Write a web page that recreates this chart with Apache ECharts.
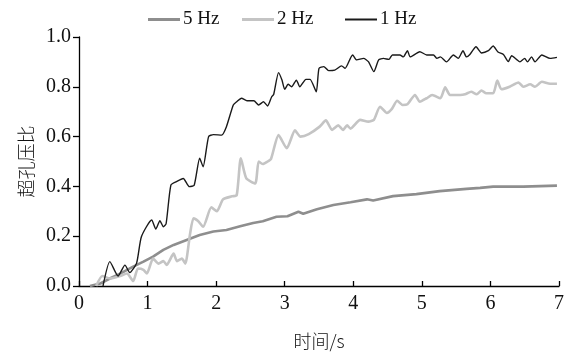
<!doctype html>
<html>
	<head>
		<meta charset="utf-8">
		<title>超孔压比</title>
	</head>
	<body style="margin:0;background:#fff">
		<div id="container" style="height: 361px; width: 569px;"></div>

		<script src="https://cdn.jsdelivr.net/npm/echarts@6/dist/echarts.min.js"></script>

		<script>
			// values: time (s) and excess pore pressure ratio
			var t5Hz = [0.16, 0.31, 0.45, 0.60, 0.79, 0.94, 1.08, 1.23, 1.38, 1.57, 1.76, 1.96, 2.15, 2.35, 2.54, 2.68, 2.88, 3.04, 3.20, 3.27, 3.47, 3.71, 3.96, 4.20, 4.29, 4.58, 4.92, 5.26, 5.65, 5.85, 6.04, 6.48, 6.97];
			var v5Hz = [0, 0.01, 0.03, 0.05, 0.078, 0.098, 0.118, 0.145, 0.165, 0.185, 0.205, 0.219, 0.225, 0.24, 0.253, 0.26, 0.278, 0.28, 0.298, 0.29, 0.308, 0.325, 0.336, 0.348, 0.343, 0.361, 0.369, 0.381, 0.39, 0.394, 0.399, 0.399, 0.403];

			var t2Hz = [0.25, 0.34, 0.45, 0.60, 0.70, 0.79, 0.86, 0.94, 0.99, 1.08, 1.16, 1.23, 1.28, 1.38, 1.43, 1.50, 1.55, 1.62, 1.67, 1.74, 1.81, 1.93, 2.01, 2.10, 2.23, 2.30, 2.36, 2.44, 2.57, 2.62, 2.68, 2.75, 2.80, 2.91, 3.03, 3.15, 3.23, 3.35, 3.51, 3.60, 3.69, 3.78, 3.85, 3.91, 3.96, 4.10, 4.22, 4.30, 4.39, 4.49, 4.56, 4.64, 4.72, 4.79, 4.90, 4.97, 5.07, 5.15, 5.27, 5.34, 5.41, 5.56, 5.63, 5.72, 5.80, 5.87, 5.94, 6.04, 6.10, 6.16, 6.28, 6.41, 6.48, 6.58, 6.65, 6.75, 6.87, 6.97];
			var v2Hz = [0, 0.04, 0.03, 0.04, 0.05, 0.02, 0.07, 0.065, 0.05, 0.11, 0.09, 0.10, 0.085, 0.13, 0.10, 0.11, 0.09, 0.21, 0.272, 0.26, 0.238, 0.316, 0.30, 0.348, 0.36, 0.365, 0.513, 0.432, 0.412, 0.50, 0.49, 0.50, 0.51, 0.606, 0.553, 0.625, 0.60, 0.61, 0.64, 0.665, 0.627, 0.645, 0.627, 0.645, 0.632, 0.667, 0.66, 0.667, 0.72, 0.695, 0.71, 0.744, 0.727, 0.73, 0.767, 0.74, 0.754, 0.767, 0.754, 0.798, 0.767, 0.767, 0.77, 0.78, 0.77, 0.785, 0.774, 0.774, 0.825, 0.79, 0.80, 0.817, 0.80, 0.81, 0.80, 0.82, 0.812, 0.812];

			var t1Hz = [0.35, 0.45, 0.57, 0.67, 0.74, 0.84, 0.91, 1.06, 1.12, 1.18, 1.23, 1.27, 1.34, 1.42, 1.52, 1.61, 1.68, 1.76, 1.81, 1.89, 1.96, 2.08, 2.15, 2.25, 2.30, 2.37, 2.45, 2.55, 2.62, 2.69, 2.75, 2.81, 2.84, 2.91, 2.96, 3.00, 3.05, 3.10, 3.17, 3.22, 3.31, 3.37, 3.46, 3.50, 3.57, 3.64, 3.73, 3.83, 3.88, 3.99, 4.05, 4.15, 4.22, 4.30, 4.37, 4.44, 4.52, 4.57, 4.68, 4.73, 4.79, 4.83, 4.97, 5.07, 5.17, 5.22, 5.27, 5.36, 5.46, 5.53, 5.60, 5.65, 5.70, 5.79, 5.87, 5.97, 6.04, 6.11, 6.19, 6.26, 6.31, 6.38, 6.43, 6.50, 6.54, 6.60, 6.65, 6.75, 6.87, 6.97];
			var v1Hz = [0, 0.098, 0.04, 0.084, 0.054, 0.092, 0.198, 0.265, 0.229, 0.262, 0.238, 0.25, 0.405, 0.419, 0.432, 0.399, 0.405, 0.513, 0.479, 0.6, 0.608, 0.606, 0.64, 0.727, 0.74, 0.754, 0.744, 0.744, 0.727, 0.74, 0.723, 0.76, 0.77, 0.857, 0.827, 0.79, 0.81, 0.80, 0.827, 0.80, 0.83, 0.83, 0.78, 0.874, 0.881, 0.865, 0.867, 0.884, 0.874, 0.928, 0.908, 0.914, 0.901, 0.861, 0.908, 0.914, 0.91, 0.928, 0.928, 0.92, 0.945, 0.92, 0.941, 0.928, 0.928, 0.914, 0.92, 0.90, 0.928, 0.914, 0.945, 0.92, 0.93, 0.961, 0.936, 0.945, 0.964, 0.94, 0.93, 0.901, 0.925, 0.91, 0.90, 0.914, 0.90, 0.92, 0.90, 0.928, 0.914, 0.918];

			var xTicks = [0, 1, 2, 3, 4, 5, 6, 7];
			var yTicks = [0, 0.2, 0.4, 0.6, 0.8, 1.0];

			function pairs(t, v) {
				return t.map(function (x, i) { return [x, v[i]]; });
			}

			var font = '"Liberation Serif", "Times New Roman", "Noto Sans CJK SC", serif';
			var cnFont = '"Noto Sans CJK SC", "Liberation Serif", serif';

			function legendAt(left, name, h) {
				return {
					left: left,
					top: 10,
					padding: 0,
					data: [name],
					icon: 'rect',
					itemWidth: 32,
					itemHeight: h,
					itemGap: 0,
					textStyle: { fontFamily: font, fontSize: 19, color: '#111', padding: [0, 0, 0, -2] }
				};
			}

			var chart = echarts.init(document.getElementById('container'));

			chart.setOption({
				animation: false,
				backgroundColor: '#fff',
				legend: [
					legendAt(148, '5 Hz', 3),
					legendAt(242, '2 Hz', 3),
					legendAt(345, '1 Hz', 2)
				],
				grid: { left: 79, right: 10, top: 37, bottom: 75 },
				xAxis: {
					type: 'value',
					min: xTicks[0],
					max: xTicks[xTicks.length - 1],
					interval: 1,
					name: '时间/s',
					nameLocation: 'middle',
					nameGap: 46,
					nameTextStyle: { fontFamily: cnFont, fontSize: 18, fontWeight: 300, color: '#111' },
					axisLine: { lineStyle: { color: '#000', width: 1.3 } },
					axisTick: { inside: true, length: 5, lineStyle: { color: '#000', width: 1.3 } },
					axisLabel: { fontFamily: font, fontSize: 20, color: '#111', margin: 8 },
					splitLine: { show: false }
				},
				yAxis: {
					type: 'value',
					min: yTicks[0],
					max: yTicks[yTicks.length - 1],
					interval: 0.2,
					name: '超孔压比',
					nameLocation: 'middle',
					nameRotate: 90,
					nameGap: 44,
					nameTextStyle: { fontFamily: cnFont, fontSize: 18, fontWeight: 300, color: '#111' },
					axisLine: { show: true, lineStyle: { color: '#000', width: 1.3 } },
					axisTick: { show: true, length: 6, lineStyle: { color: '#000', width: 1.3 } },
					axisLabel: {
						fontFamily: font, fontSize: 20, color: '#111', margin: 8,
						formatter: function (v) { return v.toFixed(1); }
					},
					splitLine: { show: false }
				},
				series: [
					{
						name: '5 Hz',
						type: 'line',
						showSymbol: false,
						color: '#8e8e8e',
						lineStyle: { width: 2.6, color: '#8e8e8e' },
						data: pairs(t5Hz, v5Hz)
					},
					{
						name: '2 Hz',
						type: 'line',
						showSymbol: false,
						smooth: 0.2,
						color: '#c4c4c4',
						lineStyle: { width: 2.6, color: '#c4c4c4' },
						data: pairs(t2Hz, v2Hz)
					},
					{
						name: '1 Hz',
						type: 'line',
						showSymbol: false,
						smooth: 0.2,
						color: '#1a1a1a',
						lineStyle: { width: 1.4, color: '#1a1a1a' },
						data: pairs(t1Hz, v1Hz)
					}
				]
			});
		</script>
	</body>
</html>
